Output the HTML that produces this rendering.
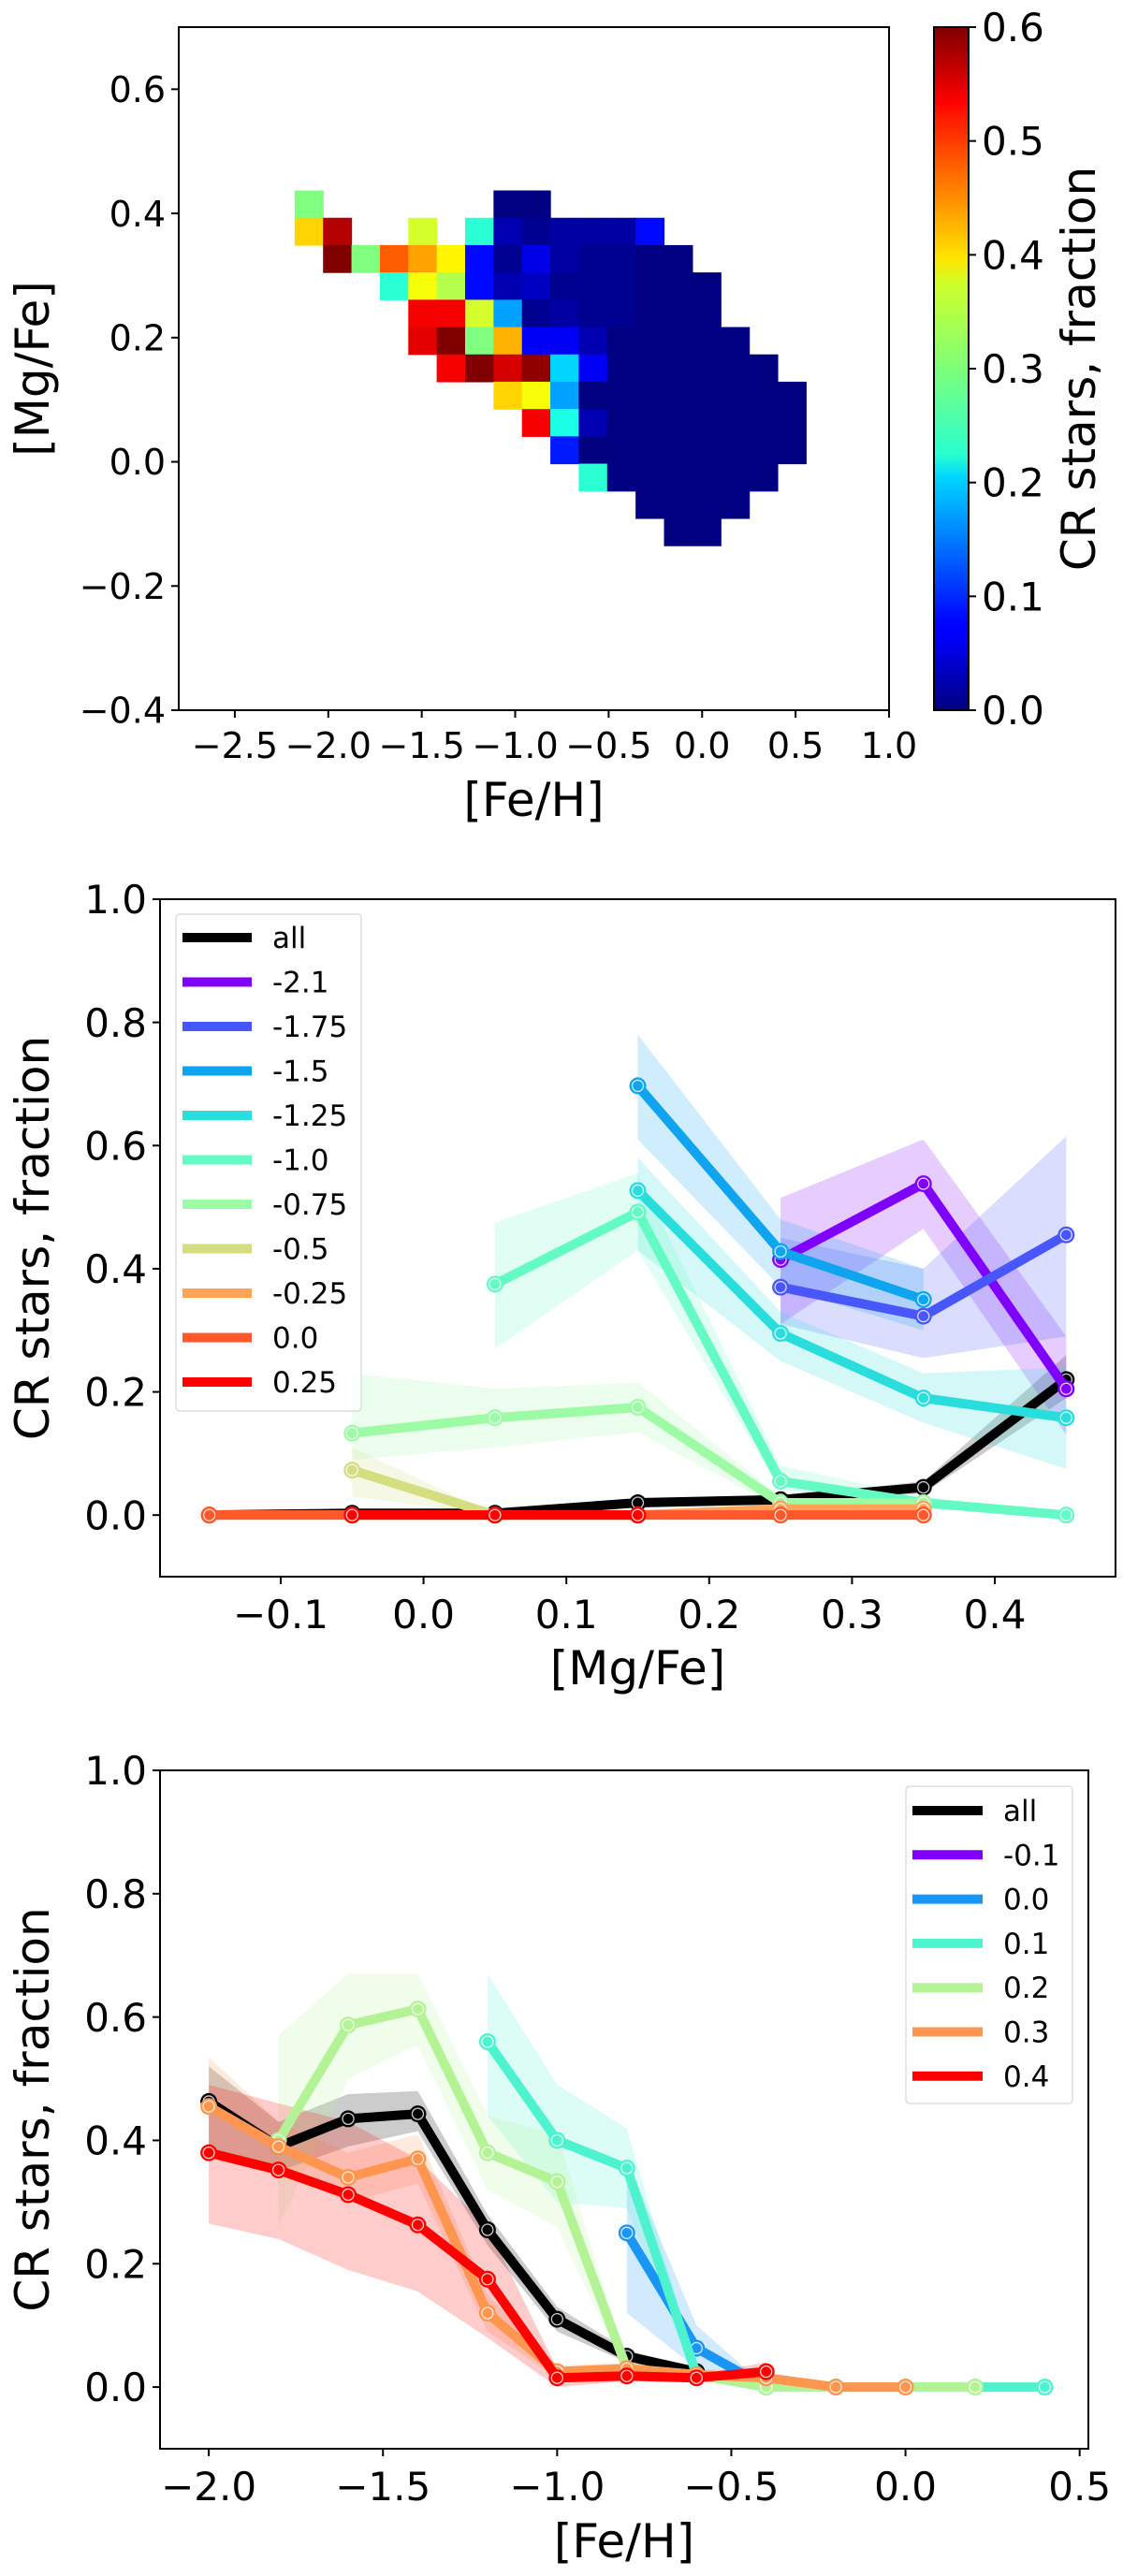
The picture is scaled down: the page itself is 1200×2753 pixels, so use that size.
<!DOCTYPE html>
<html><head><meta charset="utf-8"><style>
html,body{margin:0;padding:0;background:#fff}
svg{display:block}
text{font-family:"DejaVu Sans","Liberation Sans",sans-serif;fill:#000}
</style></head><body>
<svg id="fig" width="1200" height="2753" viewBox="0 0 1200 2753" xmlns="http://www.w3.org/2000/svg">
<defs>
<linearGradient id="jetgrad" x1="0" y1="1" x2="0" y2="0">
<stop offset="0" stop-color="#00007f"/><stop offset="0.11" stop-color="#0000ff"/><stop offset="0.125" stop-color="#0000ff"/><stop offset="0.34" stop-color="#00d4ff"/><stop offset="0.375" stop-color="#29ffce"/><stop offset="0.5" stop-color="#7dff7a"/><stop offset="0.625" stop-color="#ceff29"/><stop offset="0.66" stop-color="#ffe600"/><stop offset="0.875" stop-color="#ff1300"/><stop offset="0.89" stop-color="#ff0000"/><stop offset="1" stop-color="#7f0000"/>
</linearGradient>
</defs>
<g id="p1"></g>
<g id="p2"></g>
<g id="p3"></g>
</svg>
<script>
// ---------- Panel 1 data ----------
const heatFeStart = -2.18, heatFeStep = 0.152;
const heatMgTop = 0.437, heatMgStep = 0.044;
const n = null;
const heatRows = [
[0.3,n,n,n,n,n,n,0.0,0.0,n,n,n,n,n,n,n,n,n],
[0.4,0.57,n,n,0.35,n,0.25,0.03,0.01,0.02,0.02,0.02,0.08,n,n,n,n,n],
[n,0.6,0.3,0.47,0.43,0.38,0.08,0.01,0.06,0.02,0.01,0.01,0,0,n,n,n,n],
[n,n,n,0.25,0.37,0.33,0.08,0.03,0.04,0.01,0.01,0.01,0,0,0,n,n,n],
[n,n,n,n,0.53,0.53,0.35,0.17,0.01,0.02,0.01,0.01,0,0,0,n,n,n],
[n,n,n,n,0.54,0.6,0.3,0.42,0.07,0.07,0.03,0,0,0,0,0,n,n],
[n,n,n,n,n,0.53,0.6,0.55,0.59,0.2,0.07,0,0,0,0,0,0,n],
[n,n,n,n,n,n,n,0.4,0.37,0.17,0,0,0,0,0,0,0,0],
[n,n,n,n,n,n,n,n,0.53,0.24,0.03,0,0,0,0,0,0,0],
[n,n,n,n,n,n,n,n,n,0.09,0,0,0,0,0,0,0,0],
[n,n,n,n,n,n,n,n,n,n,0.25,0,0,0,0,0,0,n],
[n,n,n,n,n,n,n,n,n,n,n,n,0,0,0,0,n,n],
[n,n,n,n,n,n,n,n,n,n,n,n,n,0,0,n,n,n]
];
const p1XTicks = [-2.5,-2.0,-1.5,-1.0,-0.5,0.0,0.5,1.0];
const p1YTicks = [-0.4,-0.2,0.0,0.2,0.4,0.6];
const cbTicks = [0.0,0.1,0.2,0.3,0.4,0.5,0.6];

// ---------- Panel 2 data ----------
const mgX = [-0.15,-0.05,0.05,0.15,0.25,0.35,0.45];
const p2Labels = ["all","-2.1","-1.75","-1.5","-1.25","-1.0","-0.75","-0.5","-0.25","0.0","0.25"];
const p2Vals = [
[0,0.003,0.003,0.02,0.025,0.045,0.22],
[n,n,n,n,0.415,0.538,0.205],
[n,n,n,n,0.37,0.323,0.455],
[n,n,n,0.697,0.428,0.35,n],
[n,n,n,0.527,0.295,0.19,0.158],
[n,n,0.375,0.492,0.055,0.02,0.0],
[n,0.133,0.158,0.175,0.02,0.02,n],
[n,0.073,0.0,0.0,0.0,0.0,n],
[0,0,0,0,0.01,0.01,n],
[0,0,0,0,0,0,n],
[n,0,0,0,n,n,n]
];
const p2Lo = [
[0,0,0,0.015,0.02,0.035,0.19],
[n,n,n,n,0.31,0.465,0.13],
[n,n,n,n,0.31,0.255,0.29],
[n,n,n,0.61,0.37,0.30,n],
[n,n,n,0.43,0.25,0.15,0.075],
[n,n,0.27,0.43,0.04,0.01,0.0],
[n,0.09,0.11,0.135,0.01,0.01,n],
[n,0.03,0.0,0.0,0.0,0.0,n],
[0,0,0,0,0,0,n],
[0,0,0,0,0,0,n],
[n,0,0,0,n,n,n]
];
const p2Hi = [
[0,0.006,0.006,0.025,0.03,0.055,0.26],
[n,n,n,n,0.515,0.61,0.29],
[n,n,n,n,0.45,0.40,0.615],
[n,n,n,0.78,0.48,0.40,n],
[n,n,n,0.58,0.33,0.23,0.24],
[n,n,0.475,0.555,0.08,0.03,0.0],
[n,0.23,0.205,0.215,0.03,0.03,n],
[n,0.11,0.0,0.0,0.0,0.0,n],
[0,0,0,0,0.02,0.02,n],
[0,0,0,0,0,0,n],
[n,0,0,0,n,n,n]
];
const p2XTicks = [-0.1,0.0,0.1,0.2,0.3,0.4];
const yFracTicks = [0.0,0.2,0.4,0.6,0.8,1.0];

// ---------- Panel 3 data ----------
const feX = [-2.0,-1.8,-1.6,-1.4,-1.2,-1.0,-0.8,-0.6,-0.4,-0.2,0.0,0.2,0.4];
const p3Labels = ["all","-0.1","0.0","0.1","0.2","0.3","0.4"];
const p3Vals = [
[0.463,0.39,0.435,0.443,0.255,0.11,0.05,0.025,n,n,n,n,n],
[n,n,n,n,n,n,n,n,n,n,n,n,n],
[n,n,n,n,n,n,0.25,0.063,0.0,n,n,n,n],
[n,n,n,n,0.56,0.40,0.355,0.02,0.0,0.0,0.0,0.0,0.0],
[n,0.40,0.587,0.613,0.38,0.333,0.03,0.02,0.0,0.0,0.0,0.0,n],
[0.455,0.39,0.34,0.37,0.12,0.025,0.03,0.02,0.015,0.0,0.0,n,n],
[0.38,0.352,0.312,0.263,0.175,0.015,0.018,0.015,0.025,n,n,n,n]
];
const p3Lo = [
[0.38,0.35,0.39,0.415,0.23,0.09,0.04,0.02,n,n,n,n,n],
[n,n,n,n,n,n,n,n,n,n,n,n,n],
[n,n,n,n,n,n,0.12,0.03,0.0,n,n,n,n],
[n,n,n,n,0.44,0.30,0.29,0.01,0.0,0,0,0,0],
[n,0.26,0.5,0.555,0.32,0.26,0.02,0.01,0,0,0,0,n],
[0.38,0.35,0.3,0.33,0.09,0.015,0.02,0.01,0.005,0,0,n,n],
[0.265,0.24,0.19,0.155,0.08,0.0,0.01,0.01,0.015,n,n,n,n]
];
const p3Hi = [
[0.52,0.43,0.475,0.48,0.28,0.13,0.06,0.03,n,n,n,n,n],
[n,n,n,n,n,n,n,n,n,n,n,n,n],
[n,n,n,n,n,n,0.37,0.10,0.0,n,n,n,n],
[n,n,n,n,0.67,0.49,0.42,0.03,0.0,0,0,0,0],
[n,0.57,0.67,0.67,0.44,0.41,0.04,0.03,0,0,0,0,n],
[0.535,0.43,0.38,0.41,0.15,0.035,0.04,0.03,0.025,0,0,n,n],
[0.49,0.46,0.43,0.37,0.26,0.03,0.03,0.02,0.04,n,n,n,n]
];
const p3XTicks = [-2.0,-1.5,-1.0,-0.5,0.0,0.5];

// ---------- helpers ----------
const NS = "http://www.w3.org/2000/svg";
function mk(parent, tag, attrs){const e=document.createElementNS(NS,tag);for(const k in attrs)e.setAttribute(k,attrs[k]);parent.appendChild(e);return e;}
function fmt(v,d){let s=Math.abs(v).toFixed(d);return (v<-1e-9?"\u2212":"")+s;}
function clip(v){return Math.max(0,Math.min(1,v));}
function jet(v){const x=clip(v/0.6);const r=clip(1.5-Math.abs(4*x-3)),g=clip(1.5-Math.abs(4*x-2)),b=clip(1.5-Math.abs(4*x-1));return `rgb(${Math.round(r*255)},${Math.round(g*255)},${Math.round(b*255)})`;}
function rainbow(x){const r=clip(Math.abs(2*x-0.5)),g=clip(Math.sin(Math.PI*x)),b=clip(Math.cos(Math.PI*x/2));return `rgb(${Math.round(r*255)},${Math.round(g*255)},${Math.round(b*255)})`;}
function scale(d0,d1,r0,r1){return v=>r0+(v-d0)/(d1-d0)*(r1-r0);}

function axesFrame(g,L,R,T,B,xs,ys,xt,yt,xd,yd,xLab,yLab,tickY,labY,fs){
  const ax=mk(g,"g",{});
  
  
  xt.forEach(v=>{const x=xs(v);
    const t=mk(ax,"line",{x1:x,x2:x,y1:B,y2:B+8,stroke:"#000","stroke-width":2});
    
    
    const l=mk(ax,"text",{x:x,y:tickY,"font-size":fs,"text-anchor":"middle"});l.textContent=fmt(v,xd);
    
    
  });
  yt.forEach(v=>{const y=ys(v);
    const t=mk(ax,"line",{x1:L-8,x2:L,y1:y,y2:y,stroke:"#000","stroke-width":2});
    
    
    const l=mk(ax,"text",{x:L-14,y:y+fs*0.36,"font-size":fs,"text-anchor":"end"});l.textContent=fmt(v,yd);
    
    
  });
  const xl=mk(ax,"text",{x:(L+R)/2,y:labY,"font-size":50,"text-anchor":"middle"});xl.textContent=xLab;
  
  
  const cy=(T+B)/2;
  const yl=mk(ax,"text",{x:0,y:0,"font-size":50,"text-anchor":"middle",transform:`translate(52,${cy}) rotate(-90)`});yl.textContent=yLab;
  
  
}
function frame(g,L,R,T,B){const f=mk(g,"rect",{x:L,y:T,width:R-L,height:B-T,fill:"none",stroke:"#000","stroke-width":2});
  
  }

// ---------- Panel 1 ----------
(function(){
  const g=document.getElementById("p1");
  const L=191,R=950,T=29,B=759;
  const xs=scale(-2.8,1.0,L,R), ys=scale(-0.4,0.7,B,T);
  heatRows.forEach((row,ri)=>row.forEach((v,ci)=>{ if(v===null) return;
    const x0=xs(heatFeStart+ci*heatFeStep), x1=xs(heatFeStart+(ci+1)*heatFeStep);
    const y0=ys(heatMgTop-ri*heatMgStep), y1=ys(heatMgTop-(ri+1)*heatMgStep);
    const c=mk(g,"rect",{x:x0,y:y0,width:x1-x0+0.6,height:y1-y0+0.6,fill:jet(v)});
    
    
  }));
  frame(g,L,R,T,B);
  axesFrame(g,L,R,T,B,xs,ys,p1XTicks,p1YTicks,1,1,"[Fe/H]","[Mg/Fe]",810,872,38);
  const cL=998,cR=1035;
  const cb=mk(g,"rect",{x:cL,y:T,width:cR-cL,height:B-T,fill:"url(#jetgrad)",stroke:"#000","stroke-width":2});
  
  
  const cs=scale(0,0.6,B,T);
  cbTicks.forEach(v=>{const y=cs(v);
    const t=mk(g,"line",{x1:cR,x2:cR+8,y1:y,y2:y,stroke:"#000","stroke-width":2});
    
    
    const l=mk(g,"text",{x:cR+14,y:y+15,"font-size":42});l.textContent=v.toFixed(1);
    
    
  });
  const cl=mk(g,"text",{x:0,y:0,"font-size":50,"text-anchor":"middle",transform:`translate(1170,${(T+B)/2}) rotate(-90)`});cl.textContent="CR stars, fraction";
  
  
})();

function linePanel(gid,L,R,T,B,xmin,xmax,xArr,vals,lo,hi,labels,colors,xt,xd,xLab,tickY,labY,leg){
  const g=document.getElementById(gid);
  const xs=scale(xmin,xmax,L,R), ys=scale(-0.1,1.0,B,T);
  vals.forEach((s,si)=>{
    let pts=[],ptsb=[];
    s.forEach((v,i)=>{if(v===null)return;pts.push(xs(xArr[i])+","+ys(hi[si][i]));ptsb.unshift(xs(xArr[i])+","+ys(lo[si][i]));});
    if(pts.length<1)return;
    const b=mk(g,"polygon",{points:pts.concat(ptsb).join(" "),fill:colors[si],"fill-opacity":0.2,stroke:"none"});
    
    
  });
  vals.forEach((s,si)=>{
    let pts=[];
    s.forEach((v,i)=>{if(v===null)return;pts.push(xs(xArr[i])+","+ys(v));});
    if(!pts.length)return;
    const l=mk(g,"polyline",{points:pts.join(" "),fill:"none",stroke:colors[si],"stroke-width":10,"stroke-linejoin":"round"});
    
    
    s.forEach((v,i)=>{if(v===null)return;
      const c=mk(g,"circle",{cx:xs(xArr[i]),cy:ys(v),r:9,fill:colors[si],stroke:"none"});
      
      
      const c2=mk(g,"circle",{cx:xs(xArr[i]),cy:ys(v),r:6,fill:"none",stroke:"#fff","stroke-width":1.3,"stroke-opacity":0.8});
      
      
    });
  });
  frame(g,L,R,T,B);
  axesFrame(g,L,R,T,B,xs,ys,xt,yFracTicks,xd,1,xLab,"CR stars, fraction",tickY,labY,42);
  const lg=mk(g,"g",{});
  
  
  const box=mk(lg,"rect",{x:leg.x,y:leg.y,width:leg.w,height:leg.h,rx:4,fill:"#fff","fill-opacity":0.8,stroke:"#ddd","stroke-width":1.5});
  
  
  labels.forEach((lab,i)=>{const y=leg.y0+i*leg.step;
    const e=mk(lg,"g",{});
    
    
    mk(e,"line",{x1:leg.lx0,x2:leg.lx1,y1:y,y2:y,stroke:colors[i],"stroke-width":10});
    const t=mk(e,"text",{x:leg.tx,y:y+11,"font-size":31});t.textContent=lab;
  });
}

const p2Colors=["#000"].concat(p2Labels.slice(1).map((_,i)=>rainbow(i/9)));
linePanel("p2",171,1192,961,1685,-0.1845,0.4845,mgX,p2Vals,p2Lo,p2Hi,p2Labels,p2Colors,p2XTicks,1,"[Mg/Fe]",1740,1800,
  {x:188,y:977,w:198,h:531,y0:1002,step:47.5,lx0:195,lx1:269,tx:291});
const p3Colors=["#000"].concat(p3Labels.slice(1).map((_,i)=>rainbow(i/5)));
linePanel("p3",171,1163,1892,2617,-2.14,0.525,feX,p3Vals,p3Lo,p3Hi,p3Labels,p3Colors,p3XTicks,1,"[Fe/H]",2672,2733,
  {x:968,y:1909,w:178,h:339,y0:1935,step:47.3,lx0:975,lx1:1050,tx:1072});
</script>
</body></html>
